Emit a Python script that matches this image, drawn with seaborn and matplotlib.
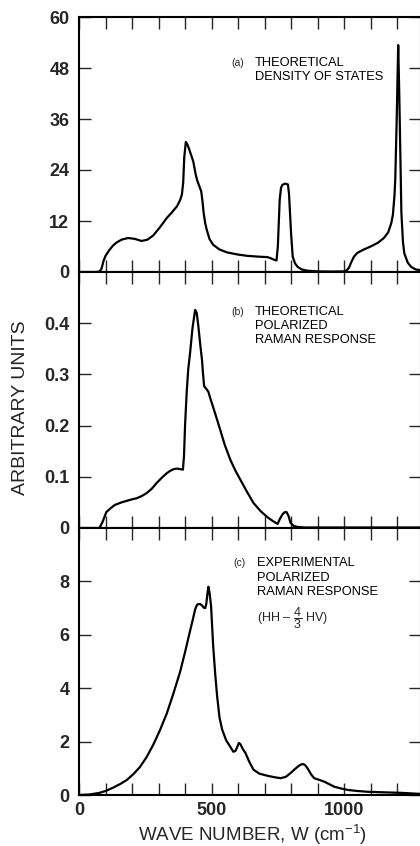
import matplotlib
matplotlib.use("Agg")
import matplotlib.pyplot as plt
import seaborn as sns
import pandas as pd

sns.set_style("ticks")
plt.rcParams['font.family'] = ['Liberation Sans', 'DejaVu Sans']
plt.rcParams['mathtext.fontset'] = 'custom'
plt.rcParams['mathtext.rm'] = 'Liberation Sans'
plt.rcParams['mathtext.it'] = 'Liberation Sans'

# (a) theoretical density of states
w_a = [0, 60, 78, 85, 92, 100, 115, 128, 141, 160,
       185, 210, 236, 258, 280, 305, 331, 350, 370, 382,
       388, 393, 397, 403, 409, 415, 423, 431, 440, 446,
       455, 461, 466, 470, 476, 482, 492, 506, 530, 559,
       600, 635, 680, 711, 725, 735, 745, 750, 757, 762,
       767, 778, 788, 792, 795, 800, 806, 815, 825, 840,
       862, 900, 950, 1000, 1010, 1018, 1027, 1037, 1050, 1071,
       1100, 1128, 1150, 1166, 1178, 1184, 1190, 1193, 1198, 1204,
       1208, 1212, 1216, 1222, 1227, 1240, 1253, 1270, 1290]
v_a = [0, 0, 0.1, 0.8, 2.5, 3.8, 5.2, 6.2, 6.9, 7.6,
       8.0, 7.8, 7.3, 7.6, 8.6, 10.5, 12.7, 14.0, 15.5, 17.0,
       18.2, 21, 27, 30.6, 30.0, 29.0, 27.5, 26, 23, 21.5,
       20, 19, 16.5, 14, 11.5, 9.9, 7.8, 6.4, 5.3, 4.6,
       4.1, 3.8, 3.6, 3.5, 3.2, 2.9, 2.7, 6, 17, 19.8,
       20.5, 20.8, 20.6, 18.5, 15, 9, 3.6, 2.0, 1.2, 0.6,
       0.3, 0.15, 0.1, 0.15, 0.4, 1.0, 2.3, 3.6, 4.5, 5.2,
       6.0, 6.9, 8.0, 9.3, 11.5, 13.5, 18, 22, 35, 53.4,
       42, 28, 14, 7, 4.4, 2.2, 1.2, 0.6, 0.4]

# (b) theoretical polarized raman response
w_b = [0, 77, 89, 103, 120, 135, 160, 180, 200, 217,
       235, 255, 275, 293, 312, 331, 345, 357, 370, 381,
       392, 396, 400, 406, 412, 419, 428, 438, 444, 450,
       457, 464, 468, 472, 480, 488, 496, 506, 520, 533,
       550, 571, 590, 609, 630, 658, 685, 711, 730, 749,
       758, 768, 776, 783, 790, 798, 810, 825, 850, 900,
       1000, 1100, 1200, 1290]
v_b = [0, 0, 0.012, 0.031, 0.039, 0.045, 0.050, 0.053, 0.056, 0.058,
       0.062, 0.068, 0.077, 0.088, 0.098, 0.107, 0.112, 0.115, 0.116, 0.115,
       0.114, 0.14, 0.2, 0.263, 0.31, 0.342, 0.39, 0.426, 0.42, 0.395,
       0.36, 0.328, 0.30, 0.277, 0.272, 0.266, 0.252, 0.236, 0.213, 0.191,
       0.162, 0.133, 0.112, 0.094, 0.074, 0.049, 0.033, 0.021, 0.014, 0.008,
       0.018, 0.027, 0.031, 0.031, 0.024, 0.01, 0.004, 0.002, 0.001, 0.001,
       0.001, 0.001, 0.001, 0.001]

# (c) experimental polarized raman response
w_c = [0, 40, 77, 100, 128, 155, 180, 205, 230, 255,
       280, 305, 331, 356, 381, 400, 419, 430, 438, 445,
       450, 457, 464, 470, 476, 480, 484, 488, 492, 498,
       506, 514, 521, 530, 540, 555, 571, 582, 590, 597,
       603, 609, 618, 628, 642, 658, 680, 711, 740, 761,
       780, 798, 812, 825, 835, 844, 852, 862, 875, 887,
       905, 925, 945, 963, 990, 1014, 1050, 1090, 1150, 1216,
       1290]
v_c = [0, 0.02, 0.08, 0.15, 0.27, 0.41, 0.56, 0.78, 1.05, 1.42,
       1.88, 2.42, 3.05, 3.8, 4.6, 5.35, 6.15, 6.6, 6.95, 7.12,
       7.15, 7.15, 7.1, 7.02, 7.0, 7.15, 7.5, 7.8, 7.6, 7.1,
       5.6, 4.5, 3.7, 2.9, 2.45, 2.05, 1.8, 1.62, 1.65, 1.8,
       1.95, 1.9, 1.72, 1.57, 1.25, 0.95, 0.8, 0.72, 0.66, 0.63,
       0.68, 0.82, 0.95, 1.06, 1.13, 1.16, 1.13, 1.0, 0.78, 0.63,
       0.57, 0.5, 0.4, 0.31, 0.24, 0.19, 0.15, 0.12, 0.1, 0.08,
       0.04]

yticks_a = [0, 12, 24, 36, 48, 60]
yticks_b = [0, 0.1, 0.2, 0.3, 0.4]
yticks_c = [0, 2, 4, 6, 8]
xtick_labels = [0, 500, 1000]

labels_a = ["THEORETICAL", "DENSITY OF STATES"]
labels_b = ["THEORETICAL", "POLARIZED", "RAMAN RESPONSE"]
labels_c = ["EXPERIMENTAL", "POLARIZED", "RAMAN RESPONSE"]

W, H = 420, 846
fig = plt.figure(figsize=(W / 100, H / 100), dpi=100)

x_left, x_right = 79, 421
panels = [
    ("a", w_a, v_a, 17, 272, (0, 60), yticks_a, ["0", "12", "24", "36", "48", "60"]),
    ("b", w_b, v_b, 272, 528, (0, 0.5), yticks_b, ["0", "0.1", "0.2", "0.3", "0.4"]),
    ("c", w_c, v_c, 528, 795, (0, 10), yticks_c, ["0", "2", "4", "6", "8"]),
]

axes = {}
for key, xs, ys, top, bot, ylim, yt, ytl in panels:
    ax = fig.add_axes([x_left / W, (H - bot) / H, (x_right - x_left) / W, (bot - top) / H])
    df = pd.DataFrame({"w": xs, "v": ys})
    sns.lineplot(data=df, x="w", y="v", ax=ax, color="black", lw=1.6,
                 sort=False, estimator=None)
    ax.set_xlim(0, 1290)
    ax.set_ylim(*ylim)
    ax.set_yticks(yt)
    ax.set_yticklabels(ytl, fontsize=13, fontweight="bold")
    ax.set_xticks(range(0, 1300, 100))
    ax.tick_params(axis="both", direction="in", length=8.5, width=1.0,
                   top=True, right=True, pad=7)
    ax.set_xlabel("")
    ax.set_ylabel("")
    for sp in ax.spines.values():
        sp.set_linewidth(1.5)
        sp.set_color("black")
    ax.set_facecolor("white")
    axes[key] = ax

for key in ["a", "b"]:
    axes[key].set_xticklabels([])

ax_c = axes["c"]
ax_c.set_xticklabels([str(t) if t in xtick_labels else "" for t in range(0, 1300, 100)],
                     fontsize=13, fontweight="bold")
ax_c.tick_params(axis="x", pad=5)

fig.text(252 / W, 1 - 835 / H, "WAVE NUMBER, W (cm$^{-1}$)", fontsize=13.5,
         ha="center", va="center")
fig.text(21 / W, 1 - 408 / H, "ARBITRARY UNITS", rotation=90, fontsize=14,
         ha="center", va="center")

txt = dict(fontsize=9.3, ha="left", va="center", color="black")
ax_a = axes["a"]
ax_a.text(0.447, 0.82, "(a)", transform=ax_a.transAxes, fontsize=7.5, ha="left", va="center")
for i, s in enumerate(labels_a):
    ax_a.text(0.515, 0.82 - i * 0.055, s, transform=ax_a.transAxes, **txt)

ax_b = axes["b"]
ax_b.text(0.447, 0.844, "(b)", transform=ax_b.transAxes, fontsize=7.5, ha="left", va="center")
for i, s in enumerate(labels_b):
    ax_b.text(0.515, 0.844 - i * 0.055, s, transform=ax_b.transAxes, **txt)

ax_c.text(0.45, 0.869, "(c)", transform=ax_c.transAxes, fontsize=7.5, ha="left", va="center")
for i, s in enumerate(labels_c):
    ax_c.text(0.52, 0.869 - i * 0.055, s, transform=ax_c.transAxes, **txt)
ax_c.text(0.52, 0.663, r"(HH – $\mathregular{\dfrac{4}{3}}$ HV)", transform=ax_c.transAxes,
          fontsize=9, ha="left", va="center")

fig.savefig("out.png", dpi=100, facecolor="white")
